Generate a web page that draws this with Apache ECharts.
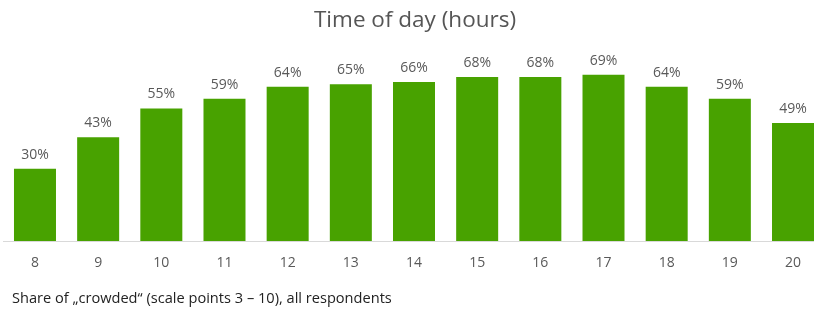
<!DOCTYPE html>
<html>
<head>
<meta charset="utf-8">
<script src="https://cdn.jsdelivr.net/npm/echarts@6/dist/echarts.min.js"></script>
<style>
  html, body { margin: 0; padding: 0; background: #fff; }
  #chart { width: 814px; height: 312px; }
</style>
</head>
<body>
<div id="chart"></div>
<script>
var hours = ['8', '9', '10', '11', '12', '13', '14', '15', '16', '17', '18', '19', '20'];
var crowdedShare = [30, 43, 55, 59, 64, 65, 66, 68, 68, 69, 64, 59, 49];

var myChart = echarts.init(document.getElementById('chart'));
var option = {
    animation: false,
    textStyle: { fontFamily: 'Open Sans' },
    title: {
        text: 'Time of day (hours)',
        left: 410,
        top: 4,
        textAlign: 'center',
        textStyle: {
            fontFamily: 'Open Sans',
            fontSize: 22.5,
            fontWeight: 'normal',
            color: '#555555'
        }
    },
    grid: {
        left: 3.4,
        width: 821.2,
        top: 0,
        bottom: 71,
        outerBoundsMode: 'none',
        containLabel: false
    },
    xAxis: {
        type: 'category',
        data: hours,
        axisLine: { lineStyle: { color: '#d9d9d9', width: 1 } },
        axisTick: { show: false },
        axisLabel: {
            color: '#595959',
            fontSize: 14,
            margin: 15
        }
    },
    yAxis: {
        type: 'value',
        min: 0,
        max: 100,
        show: false
    },
    series: [
        {
            type: 'bar',
            data: crowdedShare,
            barCategoryGap: '33.5%',
            itemStyle: { color: '#48a200' },
            label: {
                show: true,
                position: 'top',
                distance: 7,
                formatter: '{c}%',
                color: '#595959',
                fontSize: 14
            }
        }
    ],
    graphic: [
        {
            type: 'text',
            left: 12,
            top: 291,
            style: {
                text: 'Share of \u201Ecrowded\u201C (scale points 3 \u2013 10), all respondents',
                fontFamily: 'Open Sans',
                fontSize: 14.6,
                fill: '#222222'
            }
        }
    ]
};
myChart.setOption(option);
</script>
</body>
</html>
